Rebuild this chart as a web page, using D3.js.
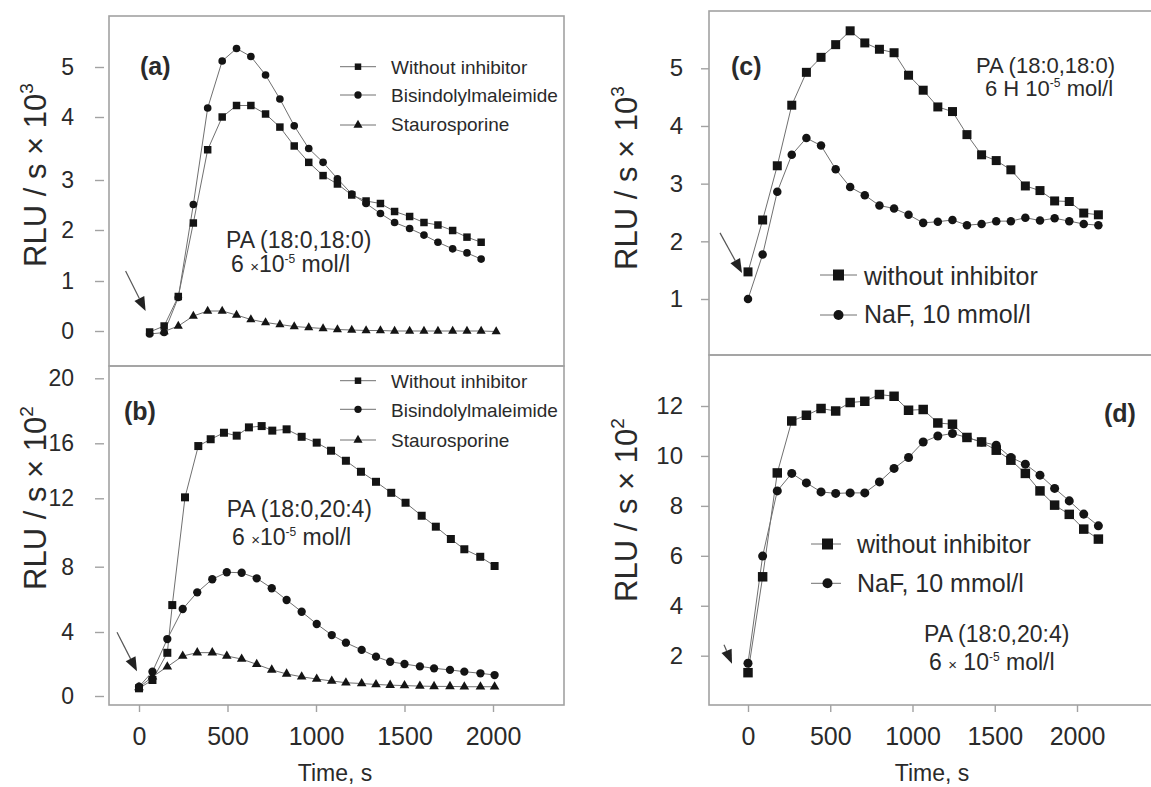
<!DOCTYPE html>
<html>
<head>
<meta charset="utf-8">
<script src="https://cdn.jsdelivr.net/npm/d3@7"></script>
<style>
  html, body { margin: 0; padding: 0; background: #fff; }
  svg { display: block; font-family: "Liberation Sans", Arial, Helvetica, sans-serif; }
</style>
</head>
<body>
<svg id="chart" width="1151" height="787"></svg>
<script>
// ---------------- data ----------------
const timeTicks = [0, 500, 1000, 1500, 2000];

// (a) PA (18:0,18:0), 6e-5 mol/l, RLU/s x 10^3
const ticksA = [0, 1, 2, 3, 4, 5];
const timeA = [60, 142, 222, 307, 388, 470, 551, 632, 715, 796, 877, 959, 1040, 1121, 1202, 1283, 1364, 1444, 1529, 1610, 1689, 1772, 1853, 1933];
const timeAStauro = [142, 222, 307, 388, 470, 551, 632, 715, 796, 877, 959, 1040, 1121, 1202, 1283, 1364, 1444, 1529, 1610, 1689, 1772, 1853, 1933, 2018];
const aWithout = [-0.02, 0.1, 0.69, 2.14, 3.48, 4.0, 4.23, 4.23, 4.06, 3.84, 3.54, 3.28, 3.07, 2.92, 2.7, 2.58, 2.53, 2.37, 2.27, 2.15, 2.1, 1.99, 1.86, 1.76];
const aBisindolyl = [-0.06, -0.03, 0.67, 2.51, 4.18, 5.12, 5.37, 5.21, 4.84, 4.36, 3.86, 3.5, 3.28, 3.02, 2.72, 2.53, 2.33, 2.15, 2.03, 1.9, 1.76, 1.63, 1.55, 1.43];
const aStauro = [-0.01, 0.1, 0.3, 0.4, 0.4, 0.32, 0.23, 0.17, 0.13, 0.09, 0.07, 0.05, 0.03, 0.02, 0.01, 0.01, 0, 0, 0, 0, 0, 0, 0, -0.01];

// (b) PA (18:0,20:4), 6e-5 mol/l, RLU/s x 10^2
const ticksB = [0, 4, 8, 12, 16, 20];
const timeBWithout = [0, 76, 160, 188, 260, 335, 405, 480, 552, 621, 693, 753, 834, 919, 1004, 1085, 1169, 1254, 1339, 1425, 1506, 1597, 1677, 1762, 1838, 1928, 2009];
const timeB = [0, 76, 160, 247, 329, 414, 496, 580, 665, 750, 834, 919, 1004, 1089, 1169, 1258, 1339, 1419, 1500, 1587, 1667, 1757, 1838, 1929, 2009];
const bWithout = [0.48, 1.0, 2.7, 5.65, 12.07, 15.8, 16.25, 16.65, 16.47, 16.98, 17.06, 16.78, 16.86, 16.4, 16.04, 15.46, 14.73, 13.93, 13.2, 12.4, 11.74, 10.98, 10.34, 9.62, 9.02, 8.58, 8.04];
const bBisindolyl = [0.58, 1.52, 3.56, 5.41, 6.43, 7.23, 7.66, 7.63, 7.29, 6.68, 5.96, 5.24, 4.49, 3.81, 3.33, 2.88, 2.46, 2.14, 2.0, 1.85, 1.73, 1.63, 1.52, 1.42, 1.31];
const bStauro = [0.54, 1.2, 1.83, 2.5, 2.71, 2.71, 2.5, 2.31, 1.98, 1.63, 1.38, 1.2, 1.06, 0.94, 0.83, 0.78, 0.72, 0.68, 0.65, 0.62, 0.6, 0.6, 0.58, 0.58, 0.58];

// (c) PA (18:0,18:0), NaF, RLU/s x 10^3  and  (d) PA (18:0,20:4), NaF, RLU/s x 10^2
const ticksC = [1, 2, 3, 4, 5];
const ticksD = [2, 4, 6, 8, 10, 12];
const timeCD = [0, 89, 178, 266, 355, 444, 533, 621, 710, 799, 888, 976, 1065, 1154, 1243, 1331, 1420, 1509, 1598, 1686, 1775, 1864, 1953, 2041, 2130];
const cWithout = [1.47, 2.37, 3.31, 4.36, 4.93, 5.19, 5.41, 5.65, 5.44, 5.33, 5.27, 4.88, 4.62, 4.33, 4.25, 3.85, 3.5, 3.4, 3.24, 2.96, 2.88, 2.7, 2.69, 2.49, 2.46];
const cNaF = [1.0, 1.77, 2.86, 3.5, 3.79, 3.66, 3.25, 2.94, 2.8, 2.62, 2.57, 2.46, 2.32, 2.34, 2.37, 2.28, 2.3, 2.35, 2.35, 2.41, 2.36, 2.4, 2.35, 2.3, 2.28];
const dWithout = [1.32, 5.16, 9.32, 11.4, 11.63, 11.9, 11.8, 12.14, 12.19, 12.46, 12.39, 11.83, 11.86, 11.32, 11.27, 10.74, 10.56, 10.23, 9.83, 9.3, 8.6, 8.03, 7.66, 7.07, 6.67];
const dNaF = [1.7, 5.99, 8.6, 9.3, 8.92, 8.56, 8.5, 8.52, 8.52, 8.96, 9.5, 9.94, 10.56, 10.8, 10.9, 10.74, 10.56, 10.43, 9.94, 9.67, 9.23, 8.7, 8.2, 7.67, 7.2];

const legendPKC = ["Without inhibitor", "Bisindolylmaleimide", "Staurosporine"];
const legendNaF = ["without inhibitor", "NaF, 10 mmol/l"];

// ---------------- styling ----------------
const FRAME = "#a2a2a2";
const LINE = "#707070";
const INK = "#141414";
const TEXT = "#2a2a2a";

const svg = d3.select("#chart");
svg.append("rect").attr("width", 1151).attr("height", 787).attr("fill", "#fff");

// ---------------- scales ----------------
// The printed value axes of the left column are not evenly spaced,
// so they use piecewise-linear scales through the tick positions.
const xLeft = d3.scaleLinear().domain([0, 2000]).range([139, 493]);
const xRight = d3.scaleLinear().domain([0, 2000]).range([748, 1077]);
const yA = d3.scaleLinear().domain(ticksA).range([331, 281, 230, 180, 117, 67]);
const yB = d3.scaleLinear().domain(ticksB).range([696, 632, 566.7, 498.3, 443.3, 378.3]);
const yC = d3.scaleLinear().domain([1, 5]).range([299, 68.3]);
const yD = d3.scaleLinear().domain([2, 12]).range([655.7, 406]);

// ---------------- helpers ----------------
function frame(x0, y0, x1, y1) {
  svg.append("rect")
    .attr("x", x0).attr("y", y0).attr("width", x1 - x0).attr("height", y1 - y0)
    .attr("fill", "none").attr("stroke", FRAME).attr("stroke-width", 1.6);
}

function yAxis(scale, ticks, xPos, tickLen, pad, fontSize) {
  const g = svg.append("g").attr("transform", `translate(${xPos},0)`)
    .call(d3.axisLeft(scale).tickValues(ticks).tickSize(tickLen).tickPadding(pad).tickFormat(d3.format("d")));
  g.select(".domain").remove();
  g.selectAll(".tick line").attr("stroke", FRAME).attr("stroke-width", 1.4);
  g.selectAll(".tick text").attr("fill", TEXT).attr("font-size", fontSize)
    .attr("font-family", '"Liberation Sans", Arial, sans-serif');
}

function xAxis(scale, yPos) {
  const g = svg.append("g").attr("transform", `translate(0,${yPos})`)
    .call(d3.axisBottom(scale).tickValues(timeTicks).tickSize(7).tickPadding(15).tickFormat(d3.format("d")));
  g.select(".domain").remove();
  g.selectAll(".tick line").attr("stroke", FRAME).attr("stroke-width", 1.4);
  g.selectAll(".tick text").attr("fill", TEXT).attr("font-size", 25)
    .attr("font-family", '"Liberation Sans", Arial, sans-serif');
}

function lineOf(x, y, times, values) {
  svg.append("path")
    .datum(d3.zip(times, values))
    .attr("d", d3.line().x(d => x(d[0])).y(d => y(d[1])))
    .attr("fill", "none").attr("stroke", LINE).attr("stroke-width", 1);
}

function markersOf(x, y, times, values, type, size) {
  svg.append("g").selectAll("path")
    .data(d3.zip(times, values))
    .join("path")
    .attr("transform", d => `translate(${x(d[0])},${y(d[1])})`)
    .attr("d", d3.symbol(type, size))
    .attr("fill", INK);
}

function legend(entries, x0, x1, xm, xt, fontSize) {
  entries.forEach(e => {
    svg.append("line").attr("x1", x0).attr("x2", x1).attr("y1", e.my).attr("y2", e.my)
      .attr("stroke", LINE).attr("stroke-width", 1);
    svg.append("path").attr("transform", `translate(${xm},${e.my})`)
      .attr("d", d3.symbol(e.type, e.size)).attr("fill", INK);
    svg.append("text").attr("x", xt).attr("y", e.base).attr("fill", TEXT)
      .attr("font-size", fontSize).text(e.label);
  });
}

function yTitle(cx, cy, exponent) {
  const t = svg.append("text")
    .attr("transform", `translate(${cx},${cy}) rotate(-90)`)
    .attr("text-anchor", "middle").attr("fill", TEXT).attr("font-size", 31);
  t.append("tspan").attr("dy", "0.35em").text("RLU / s \u00d7 10");
  t.append("tspan").attr("dy", -13).attr("font-size", 19).text(exponent);
}

function xTitle(cx, base) {
  svg.append("text").attr("x", cx).attr("y", base).attr("text-anchor", "middle")
    .attr("fill", TEXT).attr("font-size", 23).text("Time, s");
}

function panelTag(x, base, label) {
  svg.append("text").attr("x", x).attr("y", base).attr("fill", TEXT)
    .attr("font-size", 25).attr("font-weight", "bold").text(label);
}

// "PA (...)" note with a concentration line underneath
function lipidNote(x1, base1, x2, base2, lipid, mult, spaced, size) {
  svg.append("text").attr("x", x1).attr("y", base1).attr("fill", TEXT)
    .attr("font-size", size).text(lipid);
  const t = svg.append("text").attr("x", x2).attr("y", base2).attr("fill", TEXT).attr("font-size", size);
  t.append("tspan").text("6 ");
  t.append("tspan").attr("font-size", mult === "H" ? size : 15).text(mult);
  t.append("tspan").text(spaced ? " 10" : "10");
  t.append("tspan").attr("font-size", 12).attr("dy", -9).text("-5");
  t.append("tspan").attr("dy", 9).text(" mol/l");
}

function arrow(tail, tip) {
  const dx = tip[0] - tail[0], dy = tip[1] - tail[1];
  const len = Math.hypot(dx, dy), ux = dx / len, uy = dy / len;
  const hl = 14, hw = 5.5;
  const bx = tip[0] - ux * hl, by = tip[1] - uy * hl;
  svg.append("line").attr("x1", tail[0]).attr("y1", tail[1]).attr("x2", bx).attr("y2", by)
    .attr("stroke", "#555").attr("stroke-width", 1.2);
  svg.append("path")
    .attr("d", `M${tip[0]},${tip[1]} L${bx - uy * hw},${by + ux * hw} L${bx + uy * hw},${by - ux * hw} Z`)
    .attr("fill", "#222");
}

const SQ = d3.symbolSquare, CI = d3.symbolCircle, TR = d3.symbolTriangle;

// ---------------- frames ----------------
frame(109, 16, 564, 366);
frame(109, 366, 564, 705);
frame(709, 11, 1160, 355);
frame(709, 355, 1160, 705);

// ---------------- panel (a) ----------------
yAxis(yA, ticksA, 104, 9, 21, 23);
lineOf(xLeft, yA, timeAStauro, aStauro);
lineOf(xLeft, yA, timeA, aBisindolyl);
lineOf(xLeft, yA, timeA, aWithout);
markersOf(xLeft, yA, timeAStauro, aStauro, TR, 36);
markersOf(xLeft, yA, timeA, aBisindolyl, CI, 46);
markersOf(xLeft, yA, timeA, aWithout, SQ, 56);
legend([
  { my: 66.7, base: 74, type: SQ, size: 42, label: legendPKC[0] },
  { my: 95, base: 101.7, type: CI, size: 42, label: legendPKC[1] },
  { my: 125, base: 131, type: TR, size: 36, label: legendPKC[2] }
], 340, 376, 358, 391, 19);
panelTag(140, 75, "(a)");
lipidNote(226, 248, 231, 272, "PA (18:0,18:0)", "\u00d7", false, 23);
yTitle(35, 175, "3");
{
  const px = xLeft(timeA[0]), py = yA(aWithout[0]);
  arrow([px - 24, py - 61], [px - 4, py - 21]);
}

// ---------------- panel (b) ----------------
yAxis(yB, ticksB, 104, 9, 21, 23);
xAxis(xLeft, 705);
lineOf(xLeft, yB, timeB, bStauro);
lineOf(xLeft, yB, timeB, bBisindolyl);
lineOf(xLeft, yB, timeBWithout, bWithout);
markersOf(xLeft, yB, timeB, bStauro, TR, 40);
markersOf(xLeft, yB, timeB, bBisindolyl, CI, 54);
markersOf(xLeft, yB, timeBWithout, bWithout, SQ, 64);
legend([
  { my: 380.7, base: 388, type: SQ, size: 42, label: legendPKC[0] },
  { my: 409.3, base: 416.5, type: CI, size: 42, label: legendPKC[1] },
  { my: 440, base: 446.5, type: TR, size: 36, label: legendPKC[2] }
], 340, 376, 358, 391, 19);
panelTag(124, 420, "(b)");
lipidNote(226.7, 517, 232, 545, "PA (18:0,20:4)", "\u00d7", false, 23);
yTitle(35, 498, "2");
xTitle(335, 781);
{
  const px = xLeft(timeBWithout[0]), py = yB(bWithout[0]);
  arrow([px - 22, py - 56], [px - 2, py - 17]);
}

// ---------------- panel (c) ----------------
yAxis(yC, ticksC, 709, 8, 18, 24);
lineOf(xRight, yC, timeCD, cNaF);
lineOf(xRight, yC, timeCD, cWithout);
markersOf(xRight, yC, timeCD, cNaF, CI, 57);
markersOf(xRight, yC, timeCD, cWithout, SQ, 81);
legend([
  { my: 275, base: 285, type: SQ, size: 121, label: legendNaF[0] },
  { my: 315, base: 323, type: CI, size: 79, label: legendNaF[1] }
], 820, 857, 838.5, 864, 25);
panelTag(731, 75, "(c)");
lipidNote(976, 73, 985, 96, "PA (18:0,18:0)", "H", true, 22);
yTitle(626, 178, "3");
{
  const px = xRight(timeCD[0]), py = yC(cWithout[0]);
  arrow([px - 28, py - 39], [px - 6, py + 1]);
}

// ---------------- panel (d) ----------------
yAxis(yD, ticksD, 709, 8, 18, 24);
xAxis(xRight, 705);
lineOf(xRight, yD, timeCD, dNaF);
lineOf(xRight, yD, timeCD, dWithout);
markersOf(xRight, yD, timeCD, dNaF, CI, 64);
markersOf(xRight, yD, timeCD, dWithout, SQ, 90);
legend([
  { my: 544, base: 553, type: SQ, size: 121, label: legendNaF[0] },
  { my: 583.3, base: 591.5, type: CI, size: 79, label: legendNaF[1] }
], 811, 841, 827.5, 857, 25);
panelTag(1104, 422, "(d)");
lipidNote(924, 642, 929, 670, "PA (18:0,20:4)", "\u00d7", true, 23);
yTitle(626, 510, "2");
xTitle(932, 781);
{
  const px = xRight(timeCD[0]), py = yD(dWithout[0]);
  arrow([px - 24, py - 28], [px - 16, py - 9]);
}
</script>
</body>
</html>
